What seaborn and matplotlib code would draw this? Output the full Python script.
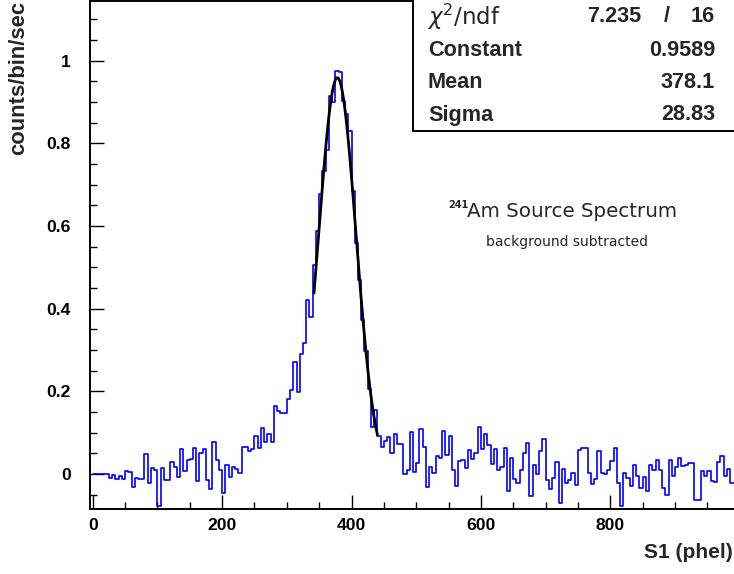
import numpy as np
import pandas as pd
import matplotlib
matplotlib.use("Agg")
import matplotlib.pyplot as plt
import seaborn as sns
from matplotlib.patches import Rectangle
from matplotlib.ticker import MultipleLocator, FixedLocator, FuncFormatter

# Am-241 S1 spectrum, background subtracted: 5 phel bins from 0 to 1000
s1_range = (0, 1000)
bin_width = 5
rate = [
    0, 0, 0, 0, 0, -0.009, -0.002, -0.012, -0.004, -0.011,
    0.008, 0.005, -0.031, -0.009, -0.012, -0.012, 0.048, -0.022, 0.014, 0.011,
    -0.077, 0.014, -0.014, -0.014, 0.028, 0.016, -0.008, 0.060, 0.008, 0.033,
    0.037, 0.062, -0.017, 0.050, 0.060, -0.014, -0.036, 0.077, 0.034, 0.010,
    -0.045, 0.021, -0.008, 0.016, 0.013, 0.002, 0.065, 0.066, 0.056, 0.060,
    0.092, 0.062, 0.112, 0.078, 0.096, 0.078, 0.165, 0.153, 0.148, 0.148,
    0.181, 0.203, 0.270, 0.199, 0.291, 0.317, 0.422, 0.380, 0.506, 0.589,
    0.678, 0.734, 0.783, 0.915, 0.899, 0.974, 0.972, 0.903, 0.870, 0.831,
    0.686, 0.559, 0.470, 0.372, 0.297, 0.205, 0.114, 0.155, 0.092, 0.066,
    0.080, 0.089, 0.052, 0.098, 0.072, 0.072, -0.001, 0.010, 0.102, 0.006,
    0.026, 0.108, 0.066, -0.032, 0.018, 0.002, 0.044, 0.038, 0.105, 0.047,
    0.093, 0.011, -0.030, 0.031, 0.035, 0.014, 0.058, 0.036, 0.050, 0.114,
    0.060, 0.096, 0.070, 0.024, 0.060, 0.010, 0.016, 0.064, -0.041, 0.038,
    -0.013, -0.021, 0.011, 0.050, 0.074, -0.053, 0.022, 0.000, 0.056, 0.086,
    -0.015, -0.036, -0.009, 0.028, -0.071, 0.012, -0.021, -0.015, 0.002, -0.027,
    0.058, 0.062, 0.062, 0.002, -0.025, -0.011, 0.056, 0.002, 0.000, 0.010,
    0.032, 0.064, -0.022, -0.077, 0.003, -0.009, -0.029, 0.023, -0.005, -0.034,
    -0.008, -0.040, 0.023, 0.010, 0.035, 0.010, -0.033, -0.051, 0.035, -0.004,
    0.018, 0.038, 0.019, 0.022, 0.027, 0.026, -0.063, -0.063, 0.007, -0.004,
    0.007, -0.016, -0.020, 0.030, 0.044, -0.004, 0.012, -0.022, -0.022, 0.000,
]
x_tick_values = [0, 200, 400, 600, 800]

# Gaussian fit results
fit_constant = 0.9589
fit_mean = 378.1
fit_sigma = 28.83
chi2 = 7.235
ndf = 16
fit_range = (342, 440)

sns.set_theme(style="ticks")
plt.rcParams["font.family"] = ["Liberation Sans", "DejaVu Sans"]

W, H = 734, 574
fig = plt.figure(figsize=(W / 100, H / 100), dpi=100)


def fx(px):
    return px / W


def fy(py):
    return 1 - py / H


ax = fig.add_axes([fx(90), fy(509), 649.7 / W, (509 - 0.8) / H])

n_bins = len(rate)
centers = s1_range[0] + bin_width * (np.arange(n_bins) + 0.5)
df = pd.DataFrame({"S1": centers, "rate": rate})
sns.histplot(data=df, x="S1", weights="rate", bins=n_bins, binrange=s1_range,
             element="step", fill=False, color="#0000ff", linewidth=1.2, ax=ax)

xs = np.linspace(fit_range[0], fit_range[1], 400)
ys = fit_constant * np.exp(-0.5 * ((xs - fit_mean) / fit_sigma) ** 2)
sns.lineplot(x=xs, y=ys, color="black", linewidth=2.0, ax=ax)

ax.set_xlim(-4.2, 1000)
ax.set_ylim(-0.0845, 1.145)
ax.set_xlabel("")
ax.set_ylabel("")

ax.xaxis.set_major_locator(FixedLocator(x_tick_values))
ax.xaxis.set_minor_locator(MultipleLocator(50))
ax.yaxis.set_major_locator(MultipleLocator(0.2))
ax.yaxis.set_minor_locator(MultipleLocator(0.05))
ax.yaxis.set_major_formatter(FuncFormatter(lambda v, p: f"{round(v, 6) + 0:g}"))
ax.xaxis.set_major_formatter(FuncFormatter(lambda v, p: f"{round(v) + 0:g}"))

ax.tick_params(which="major", direction="in", length=10.3, width=1.0, color="black",
               labelsize=12.6, labelcolor="black")
ax.tick_params(which="minor", direction="in", length=5.2, width=1.0, color="black")
ax.tick_params(axis="y", which="major", pad=14)
ax.tick_params(axis="x", which="major", pad=6.3)
for lab in ax.get_xticklabels() + ax.get_yticklabels():
    lab.set_fontweight("bold")

for side in ["left", "bottom", "top", "right"]:
    ax.spines[side].set_visible(True)
    ax.spines[side].set_color("black")
    ax.spines[side].set_linewidth(1.4)

# fit statistics box
fig.add_artist(Rectangle((fx(412.7), fy(131)), fx(745) - fx(412.7), 131 / H + 0.01,
                         transform=fig.transFigure, facecolor="white",
                         edgecolor="black", linewidth=1.4, zorder=5))
row_y = [17, 50, 83, 115]
stat_fs = 15.6
fig.text(fx(427), fy(row_y[0]), r"$\chi^{2}$/ndf", ha="left", va="center",
         fontsize=16.5, fontweight="normal", family=["DejaVu Sans"], zorder=6)
fig.text(fx(641), fy(row_y[0]), f"{chi2:.3f}", ha="right", va="center",
         fontsize=stat_fs, fontweight="bold", zorder=6)
fig.text(fx(667), fy(row_y[0]), "/", ha="center", va="center",
         fontsize=stat_fs, fontweight="bold", zorder=6)
fig.text(fx(715), fy(row_y[0]), f"{ndf}", ha="right", va="center",
         fontsize=stat_fs, fontweight="bold", zorder=6)
stat_rows = [("Constant", f"{fit_constant:.4f}"),
             ("Mean", f"{fit_mean:.1f}"),
             ("Sigma", f"{fit_sigma:.2f}")]
for (name, val), yy in zip(stat_rows, row_y[1:]):
    fig.text(fx(428), fy(yy), name, ha="left", va="center",
             fontsize=stat_fs, fontweight="bold", zorder=6)
    fig.text(fx(715), fy(yy), val, ha="right", va="center",
             fontsize=stat_fs, fontweight="bold", zorder=6)

# spectrum annotation
fig.text(fx(448), fy(208), "241", ha="left", va="baseline", fontsize=7,
         fontweight="bold", family=["DejaVu Sans"])
fig.text(fx(467), fy(217), "Am Source Spectrum", ha="left", va="baseline",
         fontsize=14.3, fontweight="normal", family=["DejaVu Sans"])
fig.text(fx(566.5), fy(246), "background subtracted", ha="center", va="baseline",
         fontsize=10, fontweight="normal", family=["DejaVu Sans"])

# axis titles
fig.text(fx(733), fy(552), "S1 (phel)", ha="right", va="center",
         fontsize=15, fontweight="bold")
fig.text(fx(19), fy(0.5), "counts/bin/sec", ha="center", va="top", rotation=90,
         fontsize=15.8, fontweight="bold")

fig.savefig("out.png", dpi=100, facecolor="white")
